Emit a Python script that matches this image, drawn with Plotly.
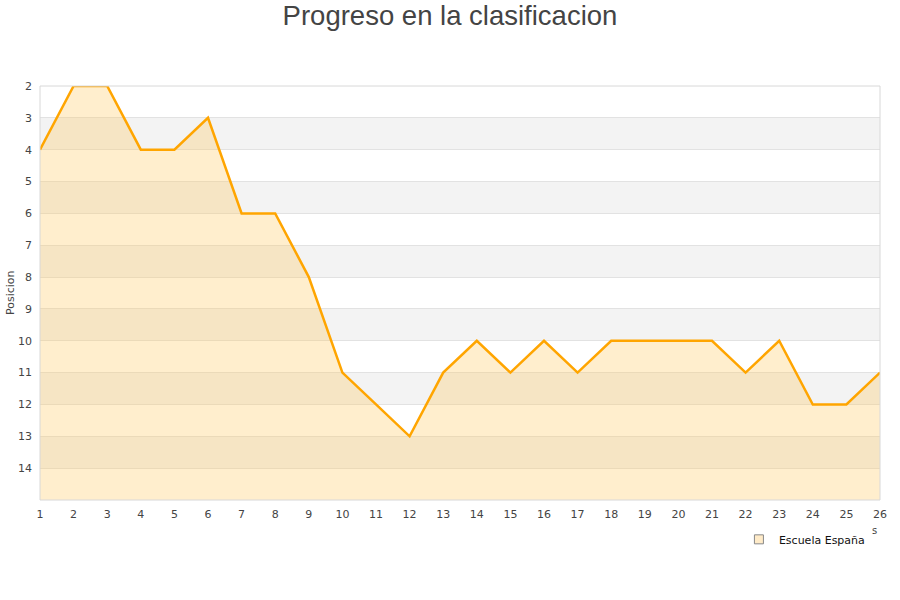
import plotly.graph_objects as go

jornadas = list(range(1, 27))
posiciones = [4, 2, 2, 4, 4, 3, 6, 6, 8, 11, 12, 13, 11, 10, 11, 10, 11, 10, 10, 10, 10, 11, 10, 12, 12, 11]
y_ticks = list(range(2, 15))
y_bottom = 15
band_starts = [3, 5, 7, 9, 11, 13]

fig = go.Figure()

# baseline for fill
fig.add_trace(go.Scatter(x=jornadas, y=[y_bottom] * len(jornadas), mode="lines",
                         line=dict(width=0, color="rgba(0,0,0,0)"), showlegend=False,
                         hoverinfo="skip"))
fig.add_trace(go.Scatter(x=jornadas, y=posiciones, mode="lines", fill="tonexty",
                         fillcolor="rgba(255,200,90,0.30)",
                         line=dict(color="#FFA500", width=2.5), showlegend=False,
                         name="Escuela España"))
# legend entry
fig.add_trace(go.Scatter(x=[None], y=[None], mode="markers", name="Escuela España",
                         marker=dict(symbol="square", size=9, color="#FFEBC8",
                                     line=dict(color="#888888", width=1))))

shapes = []
for b in band_starts:
    shapes.append(dict(type="rect", xref="paper", yref="y", x0=0, x1=1, y0=b, y1=b + 1,
                       fillcolor="#F3F3F3", line=dict(width=0), layer="below"))
shapes.append(dict(type="rect", xref="paper", yref="paper", x0=0, x1=1, y0=0, y1=1,
                   line=dict(color="#D8D8D8", width=1), fillcolor="rgba(0,0,0,0)"))

fig.update_layout(
    width=900, height=600,
    margin=dict(l=40, r=20, t=86, b=100, autoexpand=False),
    paper_bgcolor="white", plot_bgcolor="white",
    title=dict(text="Progreso en la clasificacion", x=0.5, xanchor="center", y=0.975,
               yanchor="middle", font=dict(family="Liberation Sans", size=27.5, color="#444444")),
    font=dict(family="DejaVu Sans", size=11, color="#444444"),
    shapes=shapes,
    showlegend=True,
    legend=dict(x=0.988, xanchor="right", y=-0.060, yanchor="top", orientation="h",
                font=dict(size=11, color="#111111"), bgcolor="rgba(0,0,0,0)",
                itemwidth=30),
    xaxis=dict(range=[1, 26], tickmode="array", tickvals=jornadas, showgrid=False,
               zeroline=False, showline=False, ticks="", ticklen=0,
               ticklabelstandoff=6,
               tickfont=dict(size=11, color="#444444")),
    yaxis=dict(range=[y_bottom, 2], tickmode="array", tickvals=y_ticks, showgrid=True,
               gridcolor="#E2E2E2", gridwidth=1, zeroline=False, showline=False,
               ticks="", ticklabelstandoff=7, tickfont=dict(size=11, color="#444444")),
)
fig.add_annotation(text="Posicion", xref="paper", yref="paper", x=-0.0357, y=0.5,
                   xanchor="center", yanchor="middle", textangle=-90, showarrow=False,
                   font=dict(size=11, color="#444444"))
fig.add_annotation(text="s", xref="paper", yref="paper", x=0.9985, y=-0.092, showarrow=False,
                   font=dict(size=10, color="#444444"))

fig.write_html("out.html", config={"displayModeBar": False},
               post_script="document.body.style.margin='0px';")
